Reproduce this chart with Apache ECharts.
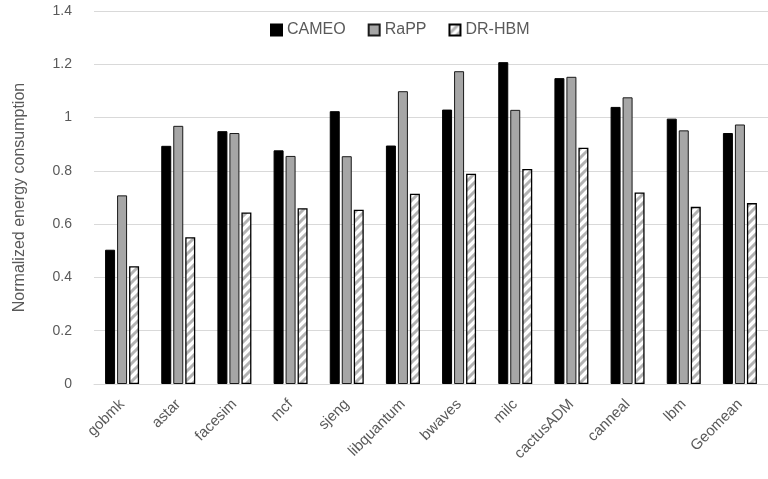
<!DOCTYPE html>
<html>
<head>
<meta charset="utf-8">
<script src="https://cdn.jsdelivr.net/npm/echarts@6/dist/echarts.min.js"></script>
<style>
  html, body { margin: 0; padding: 0; background: #fff; }
  #main { width: 768px; height: 479px; }
</style>
</head>
<body>
<div id="main"></div>
<script>
// benchmarks on the x axis
const benchmarks = ['gobmk', 'astar', 'facesim', 'mcf', 'sjeng', 'libquantum', 'bwaves', 'milc', 'cactusADM', 'canneal', 'lbm', 'Geomean'];

// normalized energy per scheme
const cameo = [0.504, 0.894, 0.949, 0.877, 1.024, 0.895, 1.03, 1.208, 1.148, 1.04, 0.996, 0.942];
const rapp  = [0.708, 0.969, 0.942, 0.856, 0.855, 1.099, 1.174, 1.029, 1.153, 1.076, 0.952, 0.974];
const drhbm = [0.442, 0.551, 0.644, 0.660, 0.654, 0.714, 0.789, 0.807, 0.887, 0.719, 0.665, 0.679];

const yTicks = [0, 0.2, 0.4, 0.6, 0.8, 1, 1.2, 1.4];

// diagonal stripe fill for DR-HBM
function stripes() {
  const s = 9;
  const c = document.createElement('canvas');
  c.width = s; c.height = s;
  const ctx = c.getContext('2d');
  ctx.fillStyle = '#fff';
  ctx.fillRect(0, 0, s, s);
  ctx.strokeStyle = '#b3b3b3';
  ctx.lineWidth = 3;
  ctx.beginPath();
  ctx.moveTo(-2, s + 2); ctx.lineTo(s + 2, -2);
  ctx.moveTo(-s - 2, s + 2); ctx.lineTo(2, -2);
  ctx.moveTo(-2, 2 * s + 2); ctx.lineTo(s + 2, s - 2);
  ctx.stroke();
  return c;
}

const font = 'Liberation Sans';
const grey = '#595959';
const chart = echarts.init(document.getElementById('main'));
chart.setOption({
  animation: false,
  textStyle: { fontFamily: font },
  legend: {
    top: 17,
    left: 265,
    icon: 'rect',
    itemWidth: 11,
    itemHeight: 11,
    itemGap: 22,
    textStyle: { fontSize: 16, color: grey, fontFamily: font },
    data: ['CAMEO', 'RaPP', 'DR-HBM']
  },
  grid: { left: 94, top: 11, width: 684, height: 373 },
  xAxis: {
    type: 'category',
    data: benchmarks,
    axisTick: { show: false },
    axisLine: { lineStyle: { color: '#d9d9d9', width: 1 } },
    axisLabel: { rotate: 45, fontSize: 15, color: grey, margin: 18, interval: 0 }
  },
  yAxis: {
    type: 'value',
    min: yTicks[0],
    max: yTicks[yTicks.length - 1],
    interval: 0.2,
    name: 'Normalized energy consumption',
    nameLocation: 'middle',
    nameGap: 66,
    nameTextStyle: { fontSize: 16, color: grey },
    axisLine: { show: false },
    axisTick: { show: false },
    splitLine: { lineStyle: { color: '#d9d9d9', width: 1 } },
    axisLabel: {
      fontSize: 14,
      color: grey,
      margin: 22,
      formatter: v => String(+v.toFixed(1))
    }
  },
  series: [
    {
      name: 'CAMEO', type: 'bar', data: cameo,
      barWidth: 10, barGap: '20%',
      itemStyle: { color: '#000', borderColor: '#000', borderWidth: 1 }
    },
    {
      name: 'RaPP', type: 'bar', data: rapp,
      barWidth: 10, barGap: '20%',
      itemStyle: { color: '#a6a6a6', borderColor: '#1a1a1a', borderWidth: 1 }
    },
    {
      name: 'DR-HBM', type: 'bar', data: drhbm,
      barWidth: 10, barGap: '20%',
      itemStyle: { color: { image: stripes(), repeat: 'repeat' }, borderColor: '#000', borderWidth: 1.3 }
    }
  ]
});
</script>
</body>
</html>
